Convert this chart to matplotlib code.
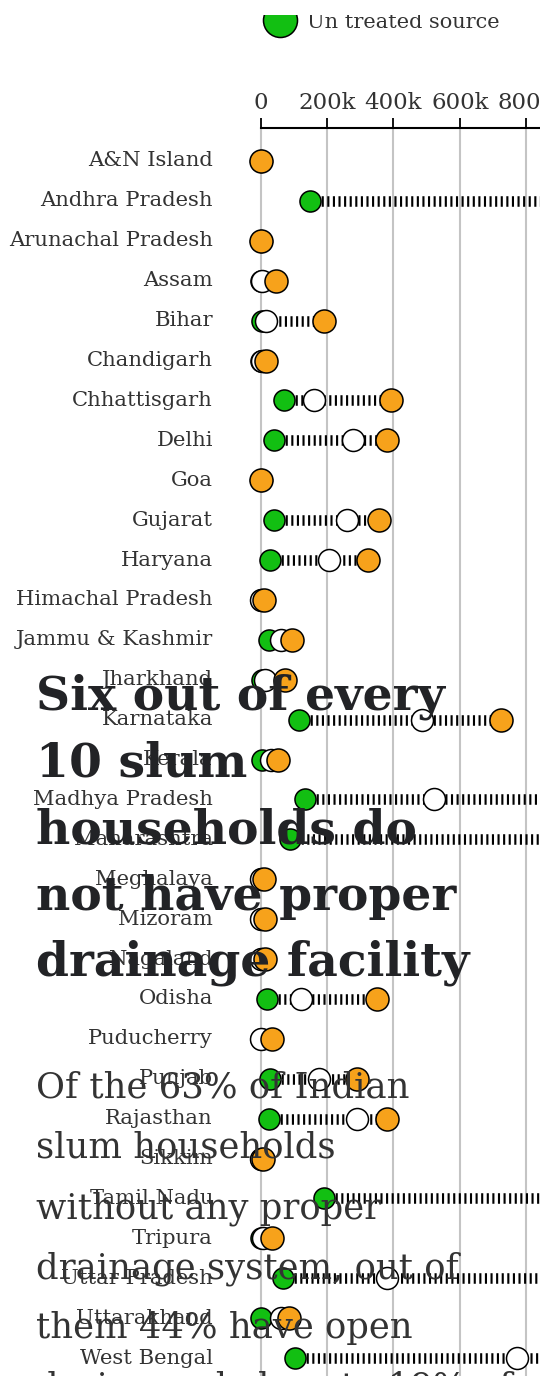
import matplotlib
matplotlib.use("Agg")
import matplotlib.pyplot as plt
import matplotlib.transforms as mtransforms
import numpy as np

# households (number) by drinking water source
states = ['A&N Island', 'Andhra Pradesh', 'Arunachal Pradesh', 'Assam', 'Bihar',
          'Chandigarh', 'Chhattisgarh', 'Delhi', 'Goa', 'Gujarat', 'Haryana',
          'Himachal Pradesh', 'Jammu & Kashmir', 'Jharkhand', 'Karnataka', 'Kerala',
          'Madhya Pradesh', 'Maharashtra', 'Meghalaya', 'Mizoram', 'Nagaland',
          'Odisha', 'Puducherry', 'Punjab', 'Rajasthan', 'Sikkim', 'Tamil Nadu',
          'Tripura', 'Uttar Pradesh', 'Uttarakhand', 'West Bengal']

untreated = [0, 148000, 0, 1000, 2000, 0, 69000, 39000, 0, 39000, 27000,
             0, 24000, 3000, 115000, 3000, 133000, 88000, 0, 0, 0,
             18000, 0, 27000, 24000, 0, 190000, 0, 66000, 0, 103000]
mid_series = [0, 1050000, 0, 3000, 15000, 2000, 160000, 277000, 0, 259000, 205000,
              0, 60000, 12000, 486000, 30000, 522000, 1300000, 0, 0, 0,
              121000, 0, 175000, 290000, 0, 1100000, 6000, 380000, 60000, 772000]
top_series = [1000, 1600000, 1000, 45000, 190000, 15000, 392000, 380000, 1000, 356000, 323000,
              9000, 94000, 72000, 725000, 51000, 1100000, 2200000, 9000, 12000, 12000,
              350000, 33000, 290000, 380000, 6000, 1500000, 33000, 1000000, 85000, 1400000]

x_ticks = [0, 200000, 400000, 600000, 800000]
x_tick_labels = ['0', '200k', '400k', '600k', '800k']

title_lines = ['Six out of every', '10 slum', 'households do', 'not have proper',
               'drainage facility']
sub_lines = ['Of the 63% of Indian', 'slum households', 'without any proper',
             'drainage system, out of', 'them 44% have open',
             'drains and close to 19% of']

W, H = 540, 1376
fig = plt.figure(figsize=(W / 100, H / 100), dpi=100)
fig.patch.set_facecolor('white')

ax = fig.add_axes([0, 0, 1, (H - 128) / H])
ax.set_facecolor('none')

y = np.arange(len(states))
lo = np.minimum(np.minimum(untreated, mid_series), top_series)
hi = np.maximum(np.maximum(untreated, mid_series), top_series)

ax.hlines(y, lo, hi, color='black', linewidth=7.6,
          linestyles=(0, (0.2, 0.33)), zorder=2)

ax.scatter(untreated, y, s=230, color='#12bf12', edgecolor='black', linewidth=1.1, zorder=3)
ax.scatter(mid_series, y, s=250, color='white', edgecolor='black', linewidth=1.1, zorder=4)
ax.scatter(top_series, y, s=275, color='#f7a21b', edgecolor='black', linewidth=1.1, zorder=5)

ax.set_xlim(-787000, 842000)
ax.set_ylim(30.45, -0.827)

ax.set_xticks(x_ticks)
ax.set_xticklabels(x_tick_labels)
ax.xaxis.tick_top()
ax.tick_params(axis='x', direction='out', length=7.2, width=1.3, pad=3,
               labelsize=16.5, labelcolor='#333333', color='black')
for lab in ax.get_xticklabels():
    lab.set_family('DejaVu Serif')
ax.set_yticks([])
ax.grid(axis='x', color='#c4c4c4', linewidth=1.5, zorder=0)
ax.set_axisbelow(True)
for side in ['left', 'right', 'bottom']:
    ax.spines[side].set_visible(False)
ax.spines['top'].set_bounds(0, 842000)
ax.spines['top'].set_linewidth(1.5)

trans = mtransforms.blended_transform_factory(fig.transFigure, ax.transData)
for i, name in enumerate(states):
    ax.text(213 / W, i, name, transform=trans, ha='right', va='center',
            fontsize=15.2, family='DejaVu Serif', color='#333333', zorder=6)

# legend: only the last entry shows, and its top is cut off in the crop
fig.add_artist(plt.Line2D([280 / W], [1 - 20 / H], marker='o', markersize=24.5,
                          markerfacecolor='#12bf12', markeredgecolor='black',
                          markeredgewidth=1.1, transform=fig.transFigure))
fig.text(307 / W, 1 - 28 / H, 'Un treated source', ha='left', va='baseline',
         fontsize=15, family='DejaVu Serif', color='#333333')
fig.add_artist(plt.Rectangle((0, 1 - 15 / H), 1, 15 / H, transform=fig.transFigure,
                             facecolor='white', edgecolor='none', zorder=20))

for k, line in enumerate(title_lines):
    fig.text(36 / W, 1 - (710 + 66.5 * k) / H, line, ha='left', va='baseline',
             fontsize=34, fontweight='bold', family='DejaVu Serif', color='#222326',
             zorder=10)

for k, line in enumerate(sub_lines):
    fig.text(36 / W, 1 - (1098 + 60 * k) / H, line, ha='left', va='baseline',
             fontsize=25.5, family='DejaVu Serif', color='#333333', zorder=10)

fig.savefig('out.png', dpi=100)
